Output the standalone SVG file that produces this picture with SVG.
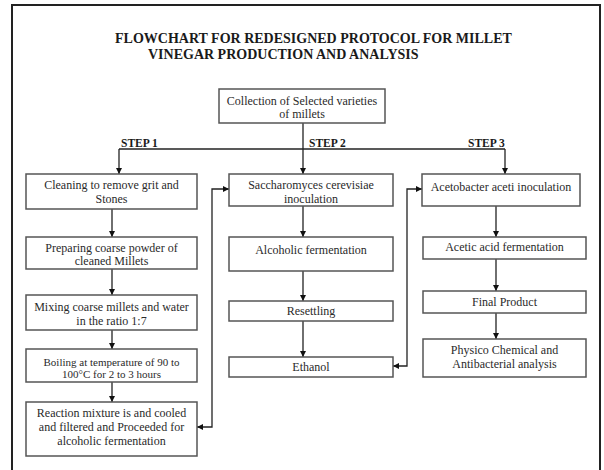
<svg xmlns="http://www.w3.org/2000/svg" width="604" height="470" viewBox="0 0 604 470">
<defs>
<style>
.box{fill:#fff;stroke:#555;stroke-width:1.5}
.t{font-family:"Liberation Serif","Times New Roman",serif;font-size:12px;fill:#2a2a2a;text-anchor:middle}
.s{font-size:11px}
.b{font-family:"Liberation Serif","Times New Roman",serif;font-weight:bold;fill:#1a1a1a}
.c{fill:none;stroke:#222;stroke-width:1.3}
</style>
<marker id="ah" viewBox="0 0 10 10" refX="10" refY="5" markerWidth="6" markerHeight="6" markerUnits="userSpaceOnUse" orient="auto-start-reverse">
<path d="M0,0 L10,5 L0,10 z" fill="#111"/>
</marker>
</defs>
<rect width="604" height="470" fill="#fff"/>
<path d="M12,472 V5 H600 V472" fill="none" stroke="#222" stroke-width="2"/>
<g id="title">
<text class="b" x="115" y="43" font-size="14">FLOWCHART FOR REDESIGNED PROTOCOL FOR MILLET</text>
<text class="b" x="148" y="59" font-size="14">VINEGAR PRODUCTION AND ANALYSIS</text>
</g>
<g id="steps">
<text class="b" x="121" y="147" font-size="11.5">STEP 1</text>
<text class="b" x="309" y="147" font-size="11.5">STEP 2</text>
<text class="b" x="468" y="147" font-size="11.5">STEP 3</text>
</g>
<g id="connectors">
<path class="c" d="M303,123 V174" marker-end="url(#ah)"/>
<path class="c" d="M119,149 H505"/>
<path class="c" d="M119,149 V174" marker-end="url(#ah)"/>
<path class="c" d="M505,149 V174" marker-end="url(#ah)"/>
<path class="c" d="M112,209 V237" marker-end="url(#ah)"/>
<path class="c" d="M112,269 V295" marker-end="url(#ah)"/>
<path class="c" d="M112,330 V349" marker-end="url(#ah)"/>
<path class="c" d="M112,382 V402" marker-end="url(#ah)"/>
<path class="c" d="M197,427 H212 V189 H229" marker-start="url(#ah)" marker-end="url(#ah)"/>
<path class="c" d="M303,206 V237" marker-end="url(#ah)"/>
<path class="c" d="M303,271 V301" marker-end="url(#ah)"/>
<path class="c" d="M303,321 V357" marker-end="url(#ah)"/>
<path class="c" d="M393,366 H407 V189 H422" marker-start="url(#ah)" marker-end="url(#ah)"/>
<path class="c" d="M496,206 V237" marker-end="url(#ah)"/>
<path class="c" d="M496,259 V291" marker-end="url(#ah)"/>
<path class="c" d="M496,313 V339" marker-end="url(#ah)"/>
</g>
<g id="collection">
<rect class="box" x="219" y="89" width="166" height="34"/>
<text class="t" x="302" y="105">Collection of Selected varieties</text>
<text class="t" x="302" y="118">of millets</text>
</g>
<g id="cleaning">
<rect class="box" x="26" y="174" width="171" height="35"/>
<text class="t" x="111.5" y="189">Cleaning to remove grit and</text>
<text class="t" x="111.5" y="203">Stones</text>
</g>
<g id="preparing">
<rect class="box" x="26" y="237" width="171" height="32"/>
<text class="t" x="111.5" y="252">Preparing coarse powder of</text>
<text class="t" x="111.5" y="265">cleaned Millets</text>
</g>
<g id="mixing">
<rect class="box" x="26" y="295" width="171" height="35"/>
<text class="t" x="111.5" y="311">Mixing coarse millets and water</text>
<text class="t" x="111.5" y="325">in the ratio 1:7</text>
</g>
<g id="boiling">
<rect class="box" x="26" y="349" width="171" height="33"/>
<text class="t s" x="111.5" y="366">Boiling at temperature of 90 to</text>
<text class="t s" x="111.5" y="378">100°C for 2 to 3 hours</text>
</g>
<g id="reaction">
<rect class="box" x="26" y="402" width="171" height="54"/>
<text class="t" x="111.5" y="417">Reaction mixture is and cooled</text>
<text class="t" x="111.5" y="431">and filtered and Proceeded for</text>
<text class="t" x="111.5" y="445">alcoholic fermentation</text>
</g>
<g id="saccharomyces">
<rect class="box" x="229" y="174" width="164" height="32"/>
<text class="t" x="311" y="189">Saccharomyces cerevisiae</text>
<text class="t" x="311" y="203">inoculation</text>
</g>
<g id="alcoholic">
<rect class="box" x="229" y="237" width="164" height="34"/>
<text class="t" x="311" y="254">Alcoholic fermentation</text>
</g>
<g id="resettling">
<rect class="box" x="229" y="301" width="164" height="20"/>
<text class="t" x="311" y="315">Resettling</text>
</g>
<g id="ethanol">
<rect class="box" x="229" y="357" width="164" height="20"/>
<text class="t" x="311" y="371">Ethanol</text>
</g>
<g id="acetobacter">
<rect class="box" x="422" y="174" width="158" height="32"/>
<text class="t" x="501" y="191">Acetobacter aceti inoculation</text>
</g>
<g id="acetic">
<rect class="box" x="423" y="237" width="163" height="22"/>
<text class="t" x="504.5" y="251">Acetic acid fermentation</text>
</g>
<g id="final">
<rect class="box" x="423" y="291" width="163" height="22"/>
<text class="t" x="504.5" y="306">Final Product</text>
</g>
<g id="physico">
<rect class="box" x="423" y="339" width="163" height="38"/>
<text class="t" x="504.5" y="354">Physico Chemical and</text>
<text class="t" x="504.5" y="368">Antibacterial analysis</text>
</g>
</svg>
